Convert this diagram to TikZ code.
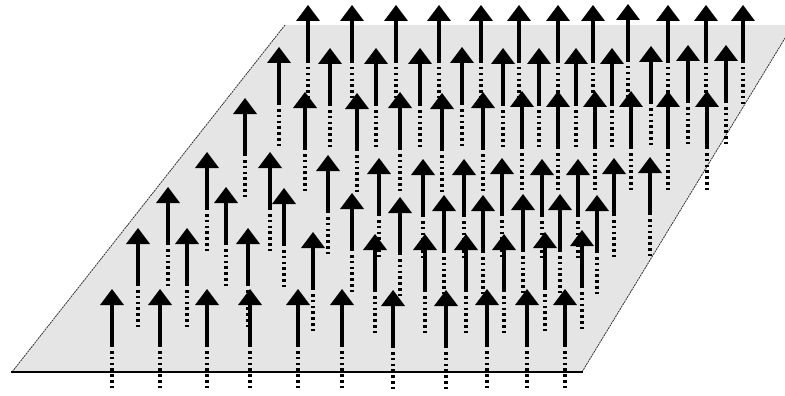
\documentclass[tikz,border=0pt]{standalone}
\begin{document}
\begin{tikzpicture}[x=1pt,y=-1pt,
  plane/.style={fill=black!10},
  sideedge/.style={draw=black!80,line width=0.8pt,dash pattern=on 2pt off 0.8pt},
  baseedge/.style={draw=black,line width=2pt},
  stem/.style={draw=black,line width=4pt,dash pattern=on 2.5pt off 3.3pt},
  spinfill/.style={fill=black}]
\useasboundingbox (0,0) rectangle (785,396);
% the plane
\begin{scope}
  \clip (0,0) rectangle (785,396);
  \fill[plane] (12,372) -- (582,372) -- (793,25) -- (285,25) -- cycle;
  \draw[sideedge] (12,372) -- (285,25);
  \draw[sideedge] (582,372) -- (793,25);
\end{scope}
\draw[baseedge] (11,372) -- (583,372);
% spins: x / tip y
\def\spinlist{%
308/5,352/5,396/5,439/5,481/5,519/5,558/5,593/5,628/4,668/5,706/5,743/5,%
279/47,330/48,376/48,420/48,462/47,503/48,539/48,576/48,612/48,651/46,688/45,726/45,%
245/98,305/92,357/93,400/92,442/93,483/92,522/91,558/91,595/91,631/91,668/91,707/91,%
207/152,270/152,328/155,379/158,423/159,464/159,502/158,542/159,578/159,614/158,650/157,%
168/187,226/187,284/188,352/193,400/197,444/195,483/195,523/194,560/194,597/195,%
138/228,187/228,248/228,313/232,375/234,425/234,466/234,504/234,545/232,582/230,%
112/289,160/289,207/289,250/289,298/289,342/289,393/290,446/290,487/289,527/289,565/289}
% dotted stems first
\foreach \x/\t in \spinlist {
  \draw[stem] (\x,\t+62) -- (\x,\t+99);
}
% solid arrows on top
\foreach \x/\t in \spinlist {
  \fill[spinfill] (\x-12,\t+16) -- (\x,\t) -- (\x+12,\t+16) -- cycle;
  \fill[spinfill] (\x-2,\t+14) rectangle (\x+2,\t+58);
}
\end{tikzpicture}
\end{document}
